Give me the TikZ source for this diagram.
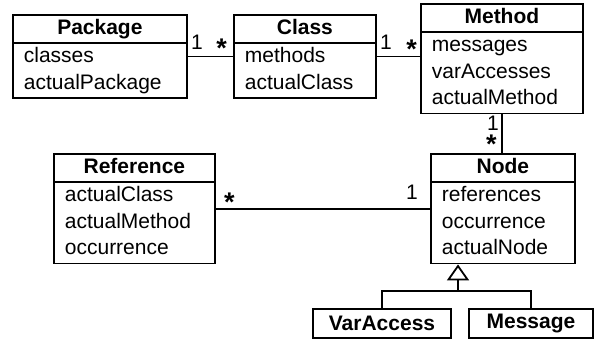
\documentclass[tikz,border=0pt]{standalone}
\usepackage{fontspec}
\setmainfont{Liberation Sans}
\usetikzlibrary{arrows.meta,shapes.multipart}
\tikzset{
  umlclass/.style = {rectangle split, rectangle split parts=2, draw, line width=1.8pt,
                     rectangle split part align={center,left}, align=left,
                     anchor=north west, inner xsep=11pt, inner ysep=0pt,
                     font=\fontsize{21}{26.5}\selectfont},
  % Subclasses: one bold line, no attribute part.
  umlsub/.style   = {draw, line width=1.8pt, minimum height=29pt, inner sep=0pt,
                     font=\fontsize{21}{26.5}\selectfont\bfseries},
  assoc/.style    = {line width=1.8pt},
  mult/.style     = {inner sep=0pt, font=\fontsize{21}{26.5}\selectfont},
  many/.style     = {mult, font=\fontsize{27}{30}\selectfont\bfseries},
}

\begin{document}
\begin{tikzpicture}[x=1pt, y=-1pt]
    \useasboundingbox (0,0) rectangle (596,341);

    \node[umlclass, minimum width=174pt] (pkg) at (12,14)
      {\textbf{Package}\strut \nodepart{second} classes\strut\\actualPackage\strut};
    \node[umlclass, minimum width=142pt] (cls) at (233,14)
      {\textbf{Class}\strut \nodepart{second} methods\strut\\actualClass\strut};
    \node[umlclass, minimum width=162pt] (meth) at (420,3)
      {\textbf{Method}\strut \nodepart{second} messages\strut\\varAccesses\strut\\actualMethod\strut};
    \node[umlclass, minimum width=161pt] (ref) at (53,153)
      {\textbf{Reference}\strut \nodepart{second} actualClass\strut\\actualMethod\strut\\occurrence\strut};
    \node[umlclass, minimum width=144pt] (nd) at (430,153)
      {\textbf{Node}\strut \nodepart{second} references\strut\\occurrence\strut\\actualNode\strut};

    \node[umlsub, minimum width=138pt] (va)  at (382,323.5) {VarAccess};
    \node[umlsub, minimum width=124pt] (msg) at (531,323.5) {Message};

    \draw[assoc] (pkg.east) -- (cls.west);
    \draw[assoc] (cls.east) -- (cls.east -| meth.west);
    \draw[assoc] (meth.south) -- (meth.south |- nd.north);
    \draw[assoc] (ref.east) -- (nd.west);

    % generalisation: both subclasses meet under one open triangle
    \coordinate (gen) at (458,291);
    \draw[assoc] (va.north) |- (gen) -| (msg.north);
    \draw[assoc, -{Triangle[open, length=16pt, width=22pt]}] (gen) -- (gen |- nd.south);

    \node[mult, anchor=base west] (pc1) at ([xshift=3pt, yshift=7pt]pkg.east) {1};
    \node[many, anchor=base east] (pcn) at ([xshift=-6pt, yshift=-1pt]cls.west) {*};
    \node[mult, anchor=base west] (cm1) at ([xshift=3pt, yshift=7pt]cls.east) {1};
    \node[many, anchor=base east] (cmn) at ([xshift=-3pt, yshift=-2pt]cls.east -| meth.west) {*};
    \node[mult, anchor=north east] (mn1) at ([xshift=-3pt, yshift=-1pt]meth.south) {1};
    \node[many, anchor=base east] (mnn) at ([xshift=-5pt, yshift=0pt]meth.south |- nd.north) {*};
    \node[many, anchor=base west] (rnn) at ([xshift=8pt, yshift=-2.5pt]ref.east) {*};
    \node[mult, anchor=base east] (rn1) at ([xshift=-12pt, yshift=9pt]nd.west) {1};
  \end{tikzpicture}
\end{document}
